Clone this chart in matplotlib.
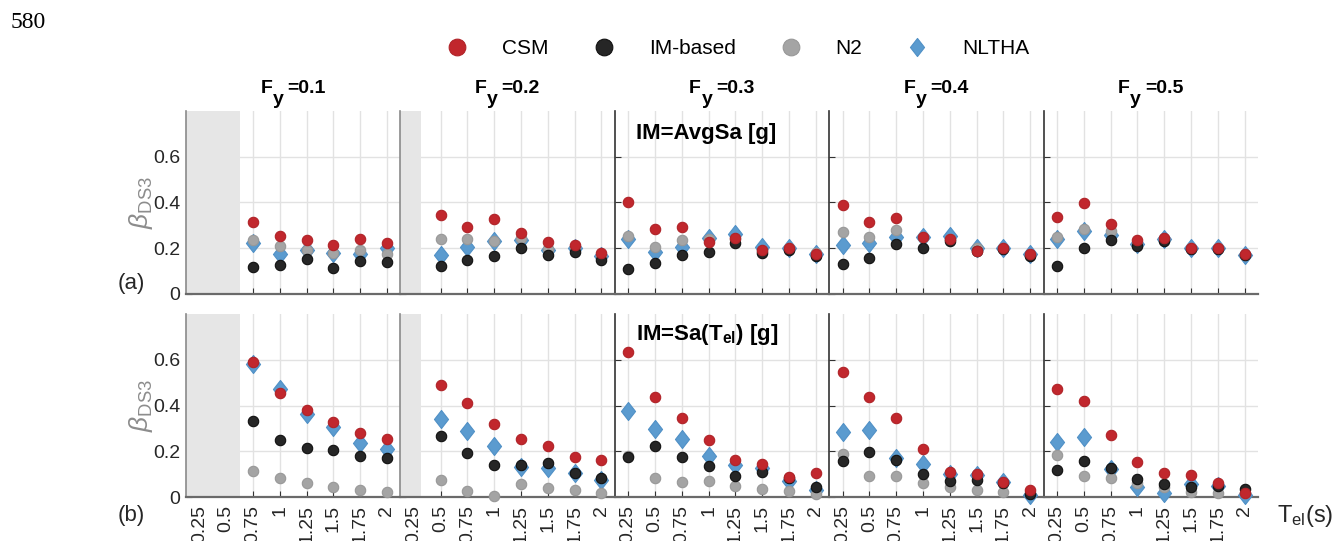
import matplotlib
matplotlib.use('Agg')
import matplotlib.pyplot as plt
from matplotlib.path import Path
from matplotlib.lines import Line2D

plt.rcParams['font.family'] = ['Liberation Sans', 'DejaVu Sans']
plt.rcParams['mathtext.fontset'] = 'custom'
plt.rcParams['mathtext.rm'] = 'Liberation Sans'
plt.rcParams['mathtext.it'] = 'Liberation Sans:italic'
plt.rcParams['mathtext.bf'] = 'Liberation Sans:bold'

# periods on the x axis of every panel
t_el = [0.25, 0.5, 0.75, 1.0, 1.25, 1.5, 1.75, 2.0]
t_labels = ['0.25', '0.5', '0.75', '1', '1.25', '1.5', '1.75', '2']
fy_values = ['0.1', '0.2', '0.3', '0.4', '0.5']
y_ticks = [0, 0.2, 0.4, 0.6]
y_labels = ['0', '0.2', '0.4', '0.6']
# upper end of the grey (no data) band per panel
grey_end = [0.625, 0.32, None, None, None]

# (a) IM = AvgSa
csm_a = [[0.315, 0.253, 0.236, 0.215, 0.239, 0.223],
         [0.346, 0.291, 0.327, 0.267, 0.229, 0.216, 0.181],
         [0.400, 0.286, 0.291, 0.226, 0.245, 0.193, 0.199, 0.177],
         [0.390, 0.315, 0.331, 0.248, 0.239, 0.190, 0.199, 0.174],
         [0.336, 0.399, 0.305, 0.235, 0.245, 0.199, 0.200, 0.174]]
im_a = [[0.120, 0.127, 0.152, 0.112, 0.146, 0.139],
        [0.124, 0.149, 0.168, 0.203, 0.169, 0.184, 0.150],
        [0.108, 0.134, 0.171, 0.182, 0.225, 0.180, 0.193, 0.164],
        [0.131, 0.156, 0.220, 0.200, 0.231, 0.187, 0.196, 0.166],
        [0.124, 0.200, 0.236, 0.209, 0.231, 0.196, 0.197, 0.171]]
n2_a = [[0.236, 0.209, 0.191, 0.180, 0.191, 0.175],
        [0.241, 0.241, 0.232, 0.244, 0.197, 0.204, 0.164],
        [0.255, 0.206, 0.236, 0.240, 0.240, 0.190, 0.200, 0.180],
        [0.269, 0.250, 0.280, 0.250, 0.240, 0.200, 0.200, 0.170],
        [0.247, 0.286, 0.276, 0.220, 0.240, 0.200, 0.200, 0.170]]
nltha_a = [[0.222, 0.174, 0.191, 0.178, 0.175, 0.201],
           [0.169, 0.206, 0.231, 0.236, 0.193, 0.200, 0.166],
           [0.239, 0.184, 0.207, 0.244, 0.261, 0.207, 0.201, 0.177],
           [0.216, 0.222, 0.248, 0.248, 0.254, 0.203, 0.203, 0.174],
           [0.242, 0.277, 0.257, 0.219, 0.242, 0.200, 0.200, 0.169]]

# (b) IM = Sa(Tel)
csm_b = [[0.590, 0.453, 0.382, 0.330, 0.279, 0.255],
         [0.488, 0.409, 0.318, 0.253, 0.223, 0.175, 0.161],
         [0.636, 0.438, 0.346, 0.247, 0.161, 0.145, 0.089, 0.104],
         [0.547, 0.435, 0.346, 0.209, 0.108, 0.101, 0.064, 0.032],
         [0.471, 0.418, 0.273, 0.154, 0.107, 0.095, 0.060, 0.019]]
im_b = [[0.331, 0.247, 0.215, 0.207, 0.181, 0.171],
        [0.267, 0.193, 0.142, 0.142, 0.150, 0.107, 0.082],
        [0.175, 0.222, 0.177, 0.134, 0.092, 0.111, 0.085, 0.044],
        [0.158, 0.196, 0.161, 0.099, 0.072, 0.076, 0.060, 0.015],
        [0.120, 0.157, 0.128, 0.078, 0.059, 0.045, 0.050, 0.035]]
n2_b = [[0.115, 0.083, 0.061, 0.045, 0.032, 0.020],
        [0.073, 0.028, 0.006, 0.055, 0.041, 0.029, 0.018],
        [0.178, 0.083, 0.066, 0.069, 0.048, 0.034, 0.025, 0.015],
        [0.190, 0.093, 0.091, 0.061, 0.042, 0.029, 0.022, 0.018],
        [0.183, 0.092, 0.081, 0.062, 0.044, 0.022, 0.018, 0.019]]
nltha_b = [[0.581, 0.470, 0.362, 0.304, 0.238, 0.212],
           [0.340, 0.288, 0.223, 0.131, 0.126, 0.107, 0.076],
           [0.374, 0.298, 0.254, 0.180, 0.139, 0.126, 0.070, 0.029],
           [0.286, 0.295, 0.172, 0.143, 0.102, 0.095, 0.064, 0.010],
           [0.242, 0.264, 0.123, 0.044, 0.018, 0.057, 0.047, 0.010]]

# matlab-like diamond, a bit taller than wide
diamond = Path([(0, 1), (0.78, 0), (0, -1), (-0.78, 0), (0, 1)],
               [Path.MOVETO, Path.LINETO, Path.LINETO, Path.LINETO, Path.CLOSEPOLY])

styles = {
  'CSM': dict(marker='o', ms=7.5, mfc='#c1272d', mec='#b02328', z=6),
  'IM-based': dict(marker='o', ms=7.5, mfc='#262626', mec='#111111', z=5),
  'N2': dict(marker='o', ms=7.5, mfc='#a4a4a4', mec='#989898', z=4),
  'NLTHA': dict(marker=diamond, ms=13, mfc='#5b9bcf', mec='#5090c6', z=3),
}

fig = plt.figure(figsize=(13.35, 5.41), dpi=100)
W, H = 1335.0, 541.0
x0 = 186 / W
pw = 214.4 / W
ph = 183 / H
row_bottom = [(H - 294) / H, (H - 497) / H]
rows = [dict(CSM=csm_a, N2=n2_a, NLTHA=nltha_a, **{'IM-based': im_a}),
        dict(CSM=csm_b, N2=n2_b, NLTHA=nltha_b, **{'IM-based': im_b})]

def px_text(x, y, s, **kw):
  # place figure text with pixel coordinates measured from the top left
  return fig.text(x / W, 1 - y / H, s, **kw)

for r, data in enumerate(rows):
  for p in range(5):
    ax = fig.add_axes([x0 + p * pw, row_bottom[r], pw, ph])
    ax.set_xlim(0.125, 2.125)
    ax.set_ylim(0, 0.8)
    ax.set_xticks(t_el)
    ax.set_yticks(y_ticks)
    ax.grid(True, color='#e2e2e2', lw=1.0)
    ax.set_axisbelow(True)
    ax.spines['top'].set_visible(False)
    ax.spines['right'].set_visible(False)
    ax.spines['bottom'].set_color('#6a6a6a')
    ax.spines['bottom'].set_linewidth(1.6)
    ax.spines['left'].set_color('#8a8a8a' if p < 2 else '#333333')
    ax.spines['left'].set_linewidth(1.2)
    ax.tick_params(direction='in', length=4, width=0.8, color='#333333',
                   labelcolor='#262626', labelsize=14)
    ax.tick_params(axis='y', pad=4)
    ax.tick_params(axis='x', pad=6)
    if r == 1:
      ax.set_xticklabels(t_labels, rotation=90)
    else:
      ax.set_xticklabels([])
    if p == 0:
      ax.set_yticklabels(y_labels)
      ax.set_ylabel(r'$\beta_{\mathrm{DS3}}$', fontsize=19, color='#8c8c8c')
      ax.yaxis.set_label_coords(-0.145, 0.5)
    else:
      ax.set_yticklabels([])
    if grey_end[p] is not None:
      ax.axvspan(0.125, grey_end[p], color='#e6e6e6', lw=0, zorder=1.5)
    for name in ['NLTHA', 'N2', 'IM-based', 'CSM']:
      vals = data[name][p]
      st = styles[name]
      ax.plot(t_el[len(t_el) - len(vals):], vals, ls='none', marker=st['marker'],
              ms=st['ms'], mfc=st['mfc'], mec=st['mec'], mew=0.8,
              zorder=st['z'], clip_on=False)
    if r == 0:
      # F_y title, matlab style with a full size, low subscript
      cx = 186 + 214.4 * (p + 0.5)
      px_text(cx - 21, 93, 'F', ha='right', va='baseline', fontsize=14, fontweight='bold')
      px_text(cx - 20.5, 104, 'y', ha='left', va='baseline', fontsize=14, fontweight='bold')
      px_text(cx - 6, 93, '=' + fy_values[p], ha='left', va='baseline', fontsize=14,
              fontweight='bold')
    if p == 2:
      if r == 0:
        ax.text(0.098, 0.845, 'IM=AvgSa [g]', transform=ax.transAxes,
                ha='left', va='baseline', fontsize=16, fontweight='bold')
      else:
        ax.text(0.098, 0.86, r'IM=Sa(T$_{\mathbf{el}}$) [g]', transform=ax.transAxes,
                ha='left', va='baseline', fontsize=16, fontweight='bold')

# legend above the panels
handles = []
for name in ['CSM', 'IM-based', 'N2', 'NLTHA']:
  st = styles[name]
  handles.append(Line2D([], [], ls='none', marker=st['marker'],
                        ms=12 if st['marker'] == 'o' else 13,
                        mfc=st['mfc'], mec=st['mec'], mew=0.8))
fig.legend(handles, ['CSM', 'IM-based', 'N2', 'NLTHA'], loc='center',
           bbox_to_anchor=(0.553, 1 - 49 / H), ncol=4, frameon=False,
           handlelength=1.0, handletextpad=1.66, columnspacing=2.14, fontsize=15)

px_text(131, 283, '(a)', ha='center', va='center', fontsize=16, color='#262626')
px_text(131, 515, '(b)', ha='center', va='center', fontsize=16, color='#262626')
px_text(1277, 516, r'T$_{\mathrm{el}}$(s)', ha='left', va='center', fontsize=17,
        color='#262626')
px_text(11, 22, '580', ha='left', va='center', fontsize=17, family='Liberation Serif')

fig.savefig('out.png', dpi=100)
